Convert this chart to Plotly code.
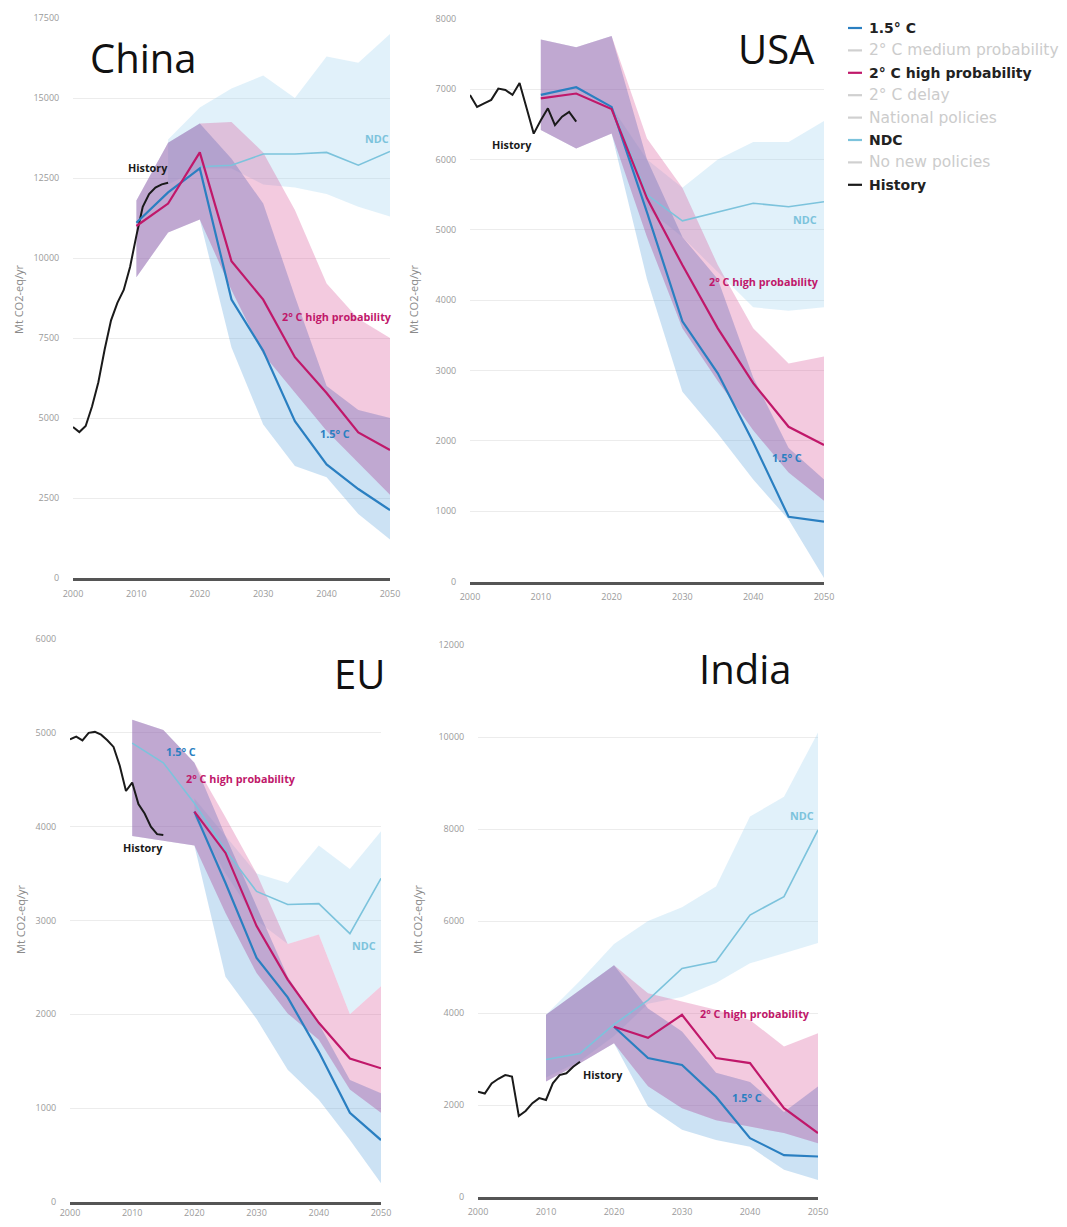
import plotly.graph_objects as go

W, H = 1067, 1227          # reference picture size
OFF = 8                    # page body margin
FW, FH = W - 2 * OFF, H - 2 * OFF   # figure size so nothing overflows

# ---------------- data ----------------
YEARS = [2010, 2015, 2020, 2025, 2030, 2035, 2040, 2045, 2050]
YEARS_20 = [2020, 2025, 2030, 2035, 2040, 2045, 2050]
YEARS_15 = [2015, 2020, 2025, 2030, 2035, 2040, 2045, 2050]
HIST_YEARS = list(range(2000, 2016))

# China
china_hist = [4720, 4560, 4750, 5360, 6120, 7150, 8050, 8600, 9000, 9720, 10700, 11600, 12000, 12200, 12300, 12350]
china_15 = [11100, 12050, 12800, 8700, 7100, 4900, 3550, 2780, 2120]
china_2c = [11000, 11700, 13300, 9900, 8700, 6900, 5780, 4550, 4000]
china_ndc = [12850, 12900, 13250, 13250, 13300, 12900, 13330]
china_15_up = [11800, 13600, 14200, 13100, 11700, 8800, 6000, 5250, 5000]
china_15_lo = [9400, 10800, 11200, 7200, 4800, 3500, 3150, 2000, 1200]
china_2c_up = [11800, 13600, 14200, 14250, 13300, 11500, 9200, 8100, 7500]
china_2c_lo = [9400, 10800, 11200, 9000, 7000, 5800, 4600, 3600, 2600]
china_ndc_up = [13700, 14700, 15300, 15700, 15000, 16300, 16100, 17000]
china_ndc_lo = [12300, 12800, 12800, 12300, 12200, 12000, 11600, 11300]

# USA
usa_hist = [6920, 6750, 6800, 6850, 7010, 6990, 6920, 7090, 6730, 6370, 6560, 6730, 6490, 6610, 6680, 6540]
usa_15 = [6920, 7030, 6750, 5250, 3700, 2960, 1980, 920, 850]
usa_2c = [6870, 6940, 6720, 5450, 4500, 3600, 2820, 2200, 1940]
usa_ndc = [6750, 5500, 5130, 5250, 5380, 5330, 5400]
usa_15_up = [7710, 7600, 7760, 6000, 4900, 4300, 2900, 1900, 1450]
usa_15_lo = [6420, 6160, 6370, 4300, 2700, 2100, 1450, 880, 50]
usa_2c_up = [7710, 7600, 7760, 6300, 5600, 4500, 3600, 3100, 3200]
usa_2c_lo = [6420, 6160, 6370, 4900, 3600, 2850, 2150, 1550, 1150]
usa_ndc_up = [6750, 6000, 5600, 6000, 6250, 6250, 6550]
usa_ndc_lo = [6750, 5300, 4900, 4400, 3900, 3850, 3900]

# EU
eu_hist = [4930, 4960, 4920, 5000, 5010, 4980, 4920, 4850, 4650, 4380, 4470, 4240, 4140, 4000, 3920, 3910]
eu_15 = [4160, 3400, 2600, 2180, 1600, 950, 660]
eu_2c = [4160, 3720, 2940, 2370, 1910, 1530, 1425]
eu_ndc = [4890, 4680, 4250, 3750, 3310, 3170, 3180, 2860, 3450]
eu_15_up = [5140, 5030, 4680, 3900, 3150, 2400, 1900, 1300, 1160]
eu_15_lo = [3900, 3850, 3800, 2400, 1950, 1410, 1090, 660, 200]
eu_2c_up = [5140, 5030, 4680, 4100, 3500, 2750, 2850, 2000, 2300]
eu_2c_lo = [3900, 3850, 3800, 3080, 2440, 2010, 1730, 1200, 950]
eu_ndc_up = [4300, 3900, 3500, 3400, 3800, 3550, 3950]
eu_ndc_lo = [4100, 3500, 3000, 2750, 2850, 2000, 2300]

# India
india_hist = [2290, 2250, 2470, 2570, 2650, 2620, 1760, 1870, 2040, 2150, 2110, 2470, 2650, 2690, 2830, 2940]
india_15 = [3700, 3020, 2870, 2180, 1280, 910, 880]
india_2c = [3700, 3460, 3960, 3020, 2910, 1930, 1390]
india_ndc = [2990, 3120, 3750, 4280, 4970, 5120, 6130, 6530, 7980]
india_15_up = [3960, 4500, 5040, 4100, 3600, 2700, 2500, 1850, 2400]
india_15_lo = [2510, 2910, 3340, 1970, 1460, 1240, 1090, 590, 370]
india_2c_up = [3960, 4500, 5040, 4430, 4250, 4070, 3850, 3270, 3560]
india_2c_lo = [2510, 2910, 3340, 2410, 1930, 1670, 1530, 1390, 1170]
india_ndc_up = [3960, 4700, 5500, 6000, 6300, 6750, 8270, 8700, 10100]
india_ndc_lo = [2600, 2950, 3500, 4200, 4350, 4650, 5080, 5300, 5520]

X_TICKS = [2000, 2010, 2020, 2030, 2040, 2050]

LEGEND_ITEMS = ["1.5° C", "2° C medium probability", "2° C high probability", "2° C delay",
                "National policies", "NDC", "No new policies", "History"]
LEGEND_ACTIVE = [True, False, True, False, False, True, False, True]

# ---------------- styles ----------------
C15 = "#2a7fc1"
C2C = "#c0186a"
CNDC = "#7cc3dc"
CHIST = "#1a1a1a"
F15 = "rgba(95,165,220,0.32)"
F2C = "rgba(215,80,150,0.30)"
FOV = "rgba(95,80,170,0.13)"
FNDC = "rgba(170,215,240,0.35)"
LEG_COLORS = [C15, "#d0d0d0", C2C, "#d0d0d0", "#d0d0d0", CNDC, "#d0d0d0", CHIST]

fig = go.Figure()


def PX(x):
    return (x - OFF) / FW


def PY(y):
    return 1 - (y - OFF) / FH


def band(xs, up, lo, color, xa, ya):
    fig.add_trace(go.Scatter(x=list(xs) + list(xs)[::-1], y=list(up) + list(lo)[::-1],
                             fill="toself", fillcolor=color, line=dict(width=0),
                             mode="lines", hoverinfo="skip", showlegend=False,
                             xaxis=xa, yaxis=ya))


def line(xs, ys, color, width, xa, ya):
    fig.add_trace(go.Scatter(x=xs, y=ys, mode="lines", line=dict(color=color, width=width),
                             showlegend=False, hoverinfo="skip", xaxis=xa, yaxis=ya))


panels = [
    dict(xa="x", ya="y", px=(73, 390), py=(578, 18), ymax=17500, dt=2500, xtl=5,
         ndc_x=YEARS_20, ndc=china_ndc, ndcb_x=YEARS_15, ndc_up=china_ndc_up, ndc_lo=china_ndc_lo,
         p15_x=YEARS, p15=china_15, p2c_x=YEARS, p2c=china_2c,
         b15=(china_15_up, china_15_lo), b2c=(china_2c_up, china_2c_lo), hist=china_hist,
         title="China", tpos=(143, 57), ytitle=(19, 300),
         labels=[("History", 2011.8, 12840, CHIST), ("NDC", 2048.0, 13750, CNDC),
                 ("2° C high probability", 2041.6, 8160, C2C), ("1.5° C", 2041.3, 4530, C15)]),
    dict(xa="x2", ya="y2", px=(470, 824), py=(581.5, 19), ymax=8000, dt=1000, xtl=5,
         ndc_x=YEARS_20, ndc=usa_ndc, ndcb_x=YEARS_20, ndc_up=usa_ndc_up, ndc_lo=usa_ndc_lo,
         p15_x=YEARS, p15=usa_15, p2c_x=YEARS, p2c=usa_2c,
         b15=(usa_15_up, usa_15_lo), b2c=(usa_2c_up, usa_2c_lo), hist=usa_hist,
         title="USA", tpos=(776, 48), ytitle=(414, 300),
         labels=[("History", 2005.9, 6210, CHIST), ("NDC", 2047.3, 5150, CNDC),
                 ("2° C high probability", 2041.5, 4270, C2C), ("1.5° C", 2044.8, 1760, C15)]),
    dict(xa="x3", ya="y3", px=(70, 381), py=(1202, 639), ymax=6000, dt=1000, xtl=0,
         ndc_x=YEARS, ndc=eu_ndc, ndcb_x=YEARS_20, ndc_up=eu_ndc_up, ndc_lo=eu_ndc_lo,
         p15_x=YEARS_20, p15=eu_15, p2c_x=YEARS_20, p2c=eu_2c,
         b15=(eu_15_up, eu_15_lo), b2c=(eu_2c_up, eu_2c_lo), hist=eu_hist,
         title="EU", tpos=(359, 673), ytitle=(20, 920),
         labels=[("1.5° C", 2017.8, 4800, C15), ("2° C high probability", 2027.5, 4510, C2C),
                 ("History", 2011.7, 3780, CHIST), ("NDC", 2047.3, 2730, CNDC)]),
    dict(xa="x4", ya="y4", px=(478, 818), py=(1197, 645), ymax=12000, dt=2000, xtl=4,
         ndc_x=YEARS, ndc=india_ndc, ndcb_x=YEARS, ndc_up=india_ndc_up, ndc_lo=india_ndc_lo,
         p15_x=YEARS_20, p15=india_15, p2c_x=YEARS_20, p2c=india_2c,
         b15=(india_15_up, india_15_lo), b2c=(india_2c_up, india_2c_lo), hist=india_hist,
         title="India", tpos=(745, 668), ytitle=(417, 920),
         labels=[("NDC", 2047.6, 8300, CNDC), ("2° C high probability", 2040.7, 3980, C2C),
                 ("History", 2018.4, 2670, CHIST), ("1.5° C", 2039.6, 2170, C15)]),
]

annotations = []
shapes = []
layout_axes = {}
TICKFONT = dict(family="Open Sans", size=9, color="#9a9a9a")

for i, p in enumerate(panels):
    xa, ya = p["xa"], p["ya"]
    band(p["ndcb_x"], p["ndc_up"], p["ndc_lo"], FNDC, xa, ya)
    band(YEARS, p["b15"][0], p["b15"][1], F15, xa, ya)
    band(YEARS, p["b2c"][0], p["b2c"][1], F2C, xa, ya)
    # overlap of the 1.5 and 2 C ranges (drawn a little darker, as in the original)
    ov_up = [min(a, b) for a, b in zip(p["b15"][0], p["b2c"][0])]
    ov_lo = [max(a, b) for a, b in zip(p["b15"][1], p["b2c"][1])]
    ov_lo = [min(l, u) for l, u in zip(ov_lo, ov_up)]
    band(YEARS, ov_up, ov_lo, FOV, xa, ya)
    line(p["ndc_x"], p["ndc"], CNDC, 1.6, xa, ya)
    line(HIST_YEARS, p["hist"], CHIST, 2, xa, ya)
    line(p["p15_x"], p["p15"], C15, 2.2, xa, ya)
    line(p["p2c_x"], p["p2c"], C2C, 2.2, xa, ya)

    xk = "xaxis" if i == 0 else f"xaxis{i+1}"
    yk = "yaxis" if i == 0 else f"yaxis{i+1}"
    layout_axes[xk] = dict(domain=[PX(p["px"][0]), PX(p["px"][1])], range=[2000, 2050], anchor=ya,
                           tickvals=X_TICKS, showgrid=False, zeroline=False, automargin=False,
                           showline=True, linecolor="#555555", linewidth=2.5,
                           ticks="outside", ticklen=p["xtl"], tickcolor="rgba(0,0,0,0)",
                           tickfont=TICKFONT, fixedrange=True)
    layout_axes[yk] = dict(domain=[PY(p["py"][0]), PY(p["py"][1])], range=[0, p["ymax"]],
                           anchor=xa, tickvals=list(range(0, p["ymax"] + 1, p["dt"])), tickformat="d",
                           showgrid=True, gridcolor="#ececec", gridwidth=1, zeroline=False,
                           automargin=False,
                           showline=False, ticks="outside", ticklen=11, tickcolor="rgba(0,0,0,0)",
                           tickfont=TICKFONT, fixedrange=True)

    annotations.append(dict(text=p["title"], x=PX(p["tpos"][0]), y=PY(p["tpos"][1]),
                            xref="paper", yref="paper",
                            showarrow=False, xanchor="center", yanchor="middle",
                            font=dict(family="Open Sans", size=40, color="#111111")))
    annotations.append(dict(text="Mt CO2-eq/yr", x=PX(p["ytitle"][0]), y=PY(p["ytitle"][1]),
                            xref="paper", yref="paper",
                            showarrow=False, textangle=-90, xanchor="center", yanchor="middle",
                            font=dict(family="Open Sans", size=11, color="#8a8a8a")))
    for txt, lx, ly, col in p["labels"]:
        annotations.append(dict(text=f"<b>{txt}</b>", x=lx, y=ly, xref=xa, yref=ya,
                                showarrow=False, xanchor="center", yanchor="middle",
                                font=dict(family="Open Sans", size=10.8, color=col)))

# legend (drawn manually)
for k, (txt, act) in enumerate(zip(LEGEND_ITEMS, LEGEND_ACTIVE)):
    yy = 28 + k * 22.4
    shapes.append(dict(type="line", xref="paper", yref="paper", x0=PX(848), x1=PX(862),
                       y0=PY(yy), y1=PY(yy), line=dict(color=LEG_COLORS[k], width=2.2)))
    annotations.append(dict(text=(f"<b>{txt}</b>" if act else txt), x=PX(867), y=PY(yy),
                            xref="paper", yref="paper",
                            showarrow=False, xanchor="left", yanchor="middle",
                            font=dict(family="DejaVu Sans", size=(14 if act else 15.5),
                                      color=("#222222" if act else "#cccccc"))))

fig.update_layout(width=FW, height=FH, margin=dict(l=0, r=0, t=0, b=0, pad=0), autosize=False,
                  paper_bgcolor="white", plot_bgcolor="white", showlegend=False,
                  annotations=annotations, shapes=shapes, **layout_axes)

fig.write_html("out.html")
